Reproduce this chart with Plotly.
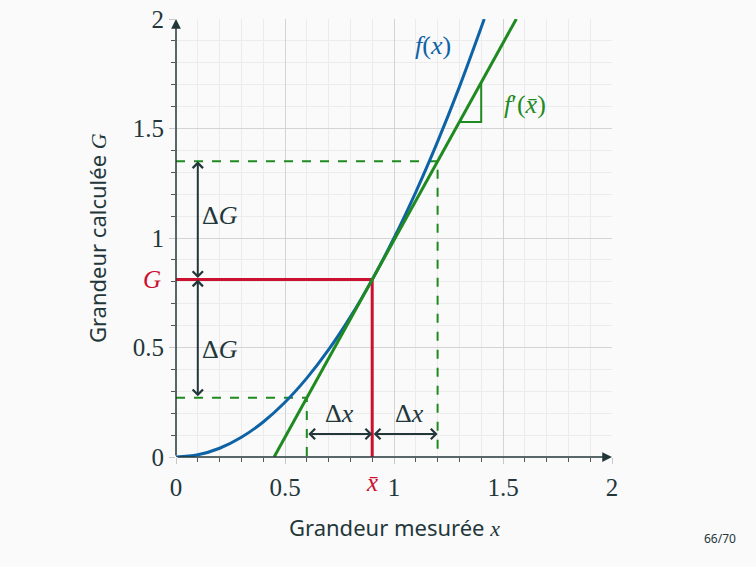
import plotly.graph_objects as go

# ---- data ----
curve_x = [0, 0.1, 0.2, 0.3, 0.4, 0.5, 0.6, 0.7, 0.8, 0.9, 1.0, 1.1, 1.2, 1.3, 1.414]
curve_y = [0, 0.01, 0.04, 0.09, 0.16, 0.25, 0.36, 0.49, 0.64, 0.81, 1.0, 1.21, 1.44, 1.69, 2.0]
tangent_x = [0.45, 1.561]
tangent_y = [0.0, 2.0]
x_bar = 0.9
G_val = 0.81
x_lo, x_hi = 0.6, 1.2
G_lo, G_hi = 0.27, 1.35
slope_tri_x = [1.3, 1.4, 1.4]
slope_tri_y = [1.53, 1.53, 1.71]
dG_arrow_x = 0.1
dx_arrow_y = 0.105
tick_vals = [0, 0.5, 1, 1.5, 2]
tick_text = ["0", "0.5", "1", "1.5", "2"]
x_min, x_max = 0, 2
y_min, y_max = 0, 2

BLUE = "#0e63a6"
GREEN = "#1f8a1f"
RED = "#cc1030"
DARK = "#23373b"
BG = "#fafafa"
SERIF = "Liberation Serif"
SANS = "Noto Sans"

fig = go.Figure()

# green dashed guides
fig.add_trace(go.Scatter(x=[0, x_lo, x_lo], y=[G_lo, G_lo, 0], mode="lines",
                         line=dict(color=GREEN, width=2, dash="dash"), hoverinfo="skip"))
fig.add_trace(go.Scatter(x=[0, x_hi, x_hi], y=[G_hi, G_hi, 0], mode="lines",
                         line=dict(color=GREEN, width=2, dash="dash"), hoverinfo="skip"))
# red lines
fig.add_trace(go.Scatter(x=[0, x_bar, x_bar], y=[G_val, G_val, 0], mode="lines",
                         line=dict(color=RED, width=3), hoverinfo="skip"))
# curve
fig.add_trace(go.Scatter(x=curve_x, y=curve_y, mode="lines", line=dict(color=BLUE, width=3, shape="spline"),
                         hoverinfo="skip"))
# tangent
fig.add_trace(go.Scatter(x=tangent_x, y=tangent_y, mode="lines", line=dict(color=GREEN, width=3),
                         hoverinfo="skip"))
# slope triangle
fig.add_trace(go.Scatter(x=slope_tri_x, y=slope_tri_y, mode="lines", line=dict(color=GREEN, width=2),
                         hoverinfo="skip"))

ann = []
def arrow(x0, y0, x1, y1, color=DARK, head=4, side="end+start", width=2, size=1.0):
    ann.append(dict(x=x1, y=y1, ax=x0, ay=y0, xref="x", yref="y", axref="x", ayref="y",
                    text="", showarrow=True, arrowhead=head, startarrowhead=head, arrowside=side,
                    arrowwidth=width, arrowsize=size, startarrowsize=size, arrowcolor=color,
                    standoff=0, startstandoff=0))

# axes with arrows
arrow(x_min, y_min, x_max, y_min, head=2, side="end", width=1.5, size=1.3)
arrow(x_min, y_min, x_min, y_max, head=2, side="end", width=1.5, size=1.3)
# Delta G arrows
arrow(dG_arrow_x, G_val, dG_arrow_x, G_hi)
arrow(dG_arrow_x, G_lo, dG_arrow_x, G_val)
# Delta x arrows
arrow(x_lo, dx_arrow_y, x_bar, dx_arrow_y)
arrow(x_bar, dx_arrow_y, x_hi, dx_arrow_y)

def label(x, y, text, color=DARK, size=26, xanchor="center", yanchor="middle", xref="x", yref="y",
          family=SERIF, angle=0):
    ann.append(dict(x=x, y=y, xref=xref, yref=yref, text=text, showarrow=False, xanchor=xanchor,
                    yanchor=yanchor, textangle=angle, font=dict(family=family, size=size, color=color)))

label(1.18, 1.88, "<i>f</i>(<i>x</i>)", color=BLUE)
label(1.6, 1.61, "<i>f</i>′(<i>x̄</i>)", color=GREEN)
label(0.2, 1.105, "Δ<i>G</i>")
label(0.2, 0.49, "Δ<i>G</i>")
label(0.75, 0.2, "Δ<i>x</i>")
label(1.07, 0.2, "Δ<i>x</i>")
# special tick labels (paper coordinates so they are drawn outside the axes)
label(-0.03, G_val / (y_max - y_min), "<i>G</i>", color=RED, xanchor="right", xref="paper", yref="paper",
      size=25)
label(x_bar / (x_max - x_min), -0.022, "<i>x̄</i>", color=RED, yanchor="top", xref="paper", yref="paper",
      size=25)
# axis titles
label(0.5, -0.16, "Grandeur mesurée <span style='font-family:Liberation Serif'><i>x</i></span>",
      xref="paper", yref="paper", family=SANS, size=22)
label(-0.181, 0.5, "Grandeur calculée <span style='font-family:Liberation Serif'><i>G</i></span>",
      xref="paper", yref="paper", family=SANS, size=22, angle=-90)
# page number
label(1.248, -0.185, "66/70", xref="paper", yref="paper", family=SANS, size=12)

axis_common = dict(range=[0, 2], tickvals=tick_vals, ticktext=tick_text, showgrid=True,
                   gridcolor="#d4d4d4", gridwidth=1, zeroline=False, showline=False,
                   ticks="outside", ticklen=6, tickcolor="#c8c8c8", automargin=False,
                   ticklabeloverflow="allow",
                   tickfont=dict(family=SERIF, size=25, color=DARK),
                   minor=dict(dtick=0.1, tick0=0, showgrid=True, gridcolor="#ececec", gridwidth=1,
                              ticks="outside", ticklen=4, tickcolor="#555555"),
                   fixedrange=True)

fig.update_layout(
    width=756, height=567,
    margin=dict(l=176, r=144, t=19, b=110, autoexpand=False),
    paper_bgcolor=BG, plot_bgcolor=BG,
    showlegend=False,
    xaxis=dict(**axis_common, ticklabelstandoff=2),
    yaxis=dict(**axis_common),
    annotations=ann,
)

fig.write_html("out.html", config={"displayModeBar": False},
               post_script="document.body.style.margin='0';document.body.style.background='#fafafa';"
                           "document.body.style.overflow='hidden';")
